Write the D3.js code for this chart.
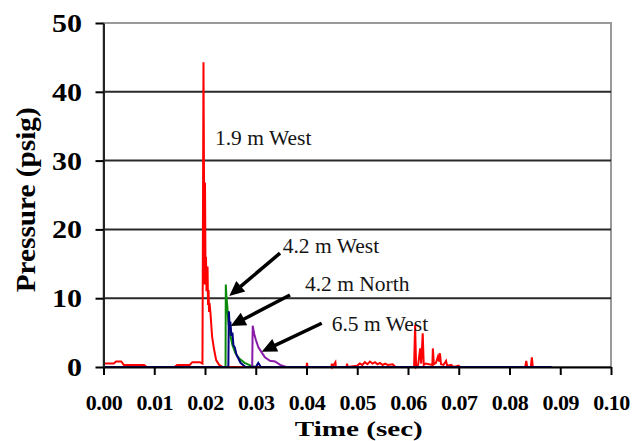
<!DOCTYPE html>
<html>
<head>
<meta charset="utf-8">
<script src="https://cdn.jsdelivr.net/npm/d3@7"></script>
<style>
  body { margin: 0; background: #fff; }
  svg { display: block; }
  .tickLabel { font-family: 'Liberation Serif', 'Times New Roman', serif; font-weight: bold; fill: #000; }
  .note { font-family: 'Liberation Serif', 'Times New Roman', serif; font-size: 21.5px; fill: #151515; }
</style>
</head>
<body>
<div id="chart"></div>
<script>
// Pressure traces, [time (sec), pressure (psig)].
const west19 = [
  [0.0000, 0.5], [0.0020, 0.5], [0.0025, 0.8], [0.0035, 0.8], [0.0040, 0.3],
  [0.0080, 0.3], [0.0085, 0], [0.0140, 0], [0.0145, 0.3], [0.0170, 0.3],
  [0.0175, 0.7], [0.0190, 0.7], [0.0195, 0.5], [0.0197, 44.3], [0.0199, 12],
  [0.0200, 26.8], [0.0201, 14], [0.0202, 16], [0.0203, 11], [0.0205, 14.6],
  [0.0206, 9], [0.0207, 11.2], [0.0208, 8], [0.0209, 9.3], [0.0211, 7.6],
  [0.0214, 4.4], [0.0218, 2.5], [0.0222, 1.0], [0.0228, 0.3], [0.0235, 0],
  [0.0400, 0], [0.0401, 0.6], [0.0402, 0], [0.0449, 0], [0.0450, 0.5],
  [0.0451, 0], [0.0457, 0.7], [0.0458, 0], [0.0479, 0], [0.0480, 0.5],
  [0.0481, 0], [0.0500, 0.2], [0.0505, 0.5], [0.0510, 0.3], [0.0515, 0.7],
  [0.0520, 0.4], [0.0525, 0.8], [0.0530, 0.5], [0.0535, 0.7], [0.0540, 0.4],
  [0.0545, 0.6], [0.0550, 0.3], [0.0555, 0.5], [0.0560, 0.3], [0.0570, 0.4],
  [0.0575, 0], [0.0612, 0], [0.0614, 6.1], [0.0616, 0], [0.0620, 0.3],
  [0.0624, 2.7], [0.0626, 0.5], [0.0629, 4.9], [0.0631, 0.3], [0.0635, 0.5],
  [0.0648, 0.3], [0.0649, 2.7], [0.0651, 0.4], [0.0655, 0.6], [0.0659, 1.5],
  [0.0661, 0.8], [0.0663, 2.0], [0.0665, 0.4], [0.0670, 0.3], [0.0675, 0.9],
  [0.0677, 0.2], [0.0685, 0.3], [0.0690, 0], [0.0700, 0.2], [0.0702, 0],
  [0.0831, 0], [0.0833, 0.9], [0.0835, 0], [0.0842, 0], [0.0844, 1.4],
  [0.0846, 0], [0.0850, 0],
];
const west42 = [
  [0.0000, 0], [0.02405, 0], [0.0241, 12.0], [0.0242, 10.5], [0.0244, 8.8],
  [0.0246, 6.5], [0.0250, 4.6], [0.0254, 3.2], [0.0260, 2.0], [0.0268, 1.2],
  [0.0278, 0.6], [0.0290, 0.2], [0.0300, 0],
];
const west65 = [
  [0.0293, 0], [0.0294, 6.0], [0.0297, 4.8], [0.0300, 4.0], [0.0305, 2.9],
  [0.0311, 2.2], [0.0318, 1.4], [0.0328, 0.9], [0.0338, 0.8], [0.0348, 0.3],
  [0.0360, 0],
];
const north42 = [
  [0.0000, 0], [0.0246, 0], [0.0247, 8.1], [0.0249, 5.5], [0.0250, 6.6],
  [0.0252, 4.5], [0.0254, 5.0], [0.0256, 3.2], [0.0259, 2.8], [0.0262, 1.8],
  [0.0266, 1.2], [0.0270, 0.6], [0.0275, 0.3], [0.0280, 0], [0.0300, 0],
  [0.0305, 0.6], [0.0310, 0], [0.0883, 0],
];

const xTicks = d3.range(0, 11).map((d) => d / 100);
const yTicks = [0, 10, 20, 30, 40, 50];

// Callouts: label start [time, pressure] and arrow tail / tip.
const callouts = [
  { text: '1.9 m West', at: [0.02197, 32.3] },
  { text: '4.2 m West', at: [0.03531, 16.54], from: [0.03478, 16.54], to: [0.02479, 10.33] },
  { text: '4.2 m North', at: [0.0397, 11.06], from: [0.03675, 10.47], to: [0.02506, 5.96] },
  { text: '6.5 m West', at: [0.04497, 5.24], from: [0.0430, 6.36], to: [0.03117, 2.23] },
];

/**
 * Draws a filled arrow from tail to tip (pixel coordinates).
 */
function drawArrow(g, x1, y1, x2, y2) {
  const len = Math.hypot(x2 - x1, y2 - y1);
  const ux = (x2 - x1) / len;
  const uy = (y2 - y1) / len;
  const headLen = 15;
  const headHalf = 7;
  const bx = x2 - ux * headLen;
  const by = y2 - uy * headLen;
  g.append('line')
    .attr('x1', x1).attr('y1', y1)
    .attr('x2', bx + ux * 2).attr('y2', by + uy * 2)
    .attr('stroke', '#000')
    .attr('stroke-width', 3.5);
  g.append('polygon')
    .attr('points', [
      [x2, y2],
      [bx - uy * headHalf, by + ux * headHalf],
      [bx + uy * headHalf, by - ux * headHalf],
    ].map((p) => p.join(',')).join(' '))
    .attr('fill', '#000');
}

function buildChart(targetNode) {
  const imageWidth = 632;
  const imageHeight = 441;
  const margin = {
    top: 23, right: 21, bottom: 74, left: 103.5,
  };
  const width = imageWidth - margin.left - margin.right;
  const height = imageHeight - margin.top - margin.bottom;

  const x = d3.scaleLinear().domain([0, 0.1]).range([0, width]);
  const y = d3.scaleLinear().domain([0, 50]).range([height, 0]);

  const root = d3.select(targetNode).append('svg')
    .attr('width', imageWidth)
    .attr('height', imageHeight);
  const svg = root.append('g')
    .attr('transform', `translate(${margin.left},${margin.top})`);

  // Plot border (top and right are grey).
  svg.append('rect')
    .attr('x', 0).attr('y', 0)
    .attr('width', width).attr('height', height)
    .attr('fill', 'none')
    .attr('stroke', '#9a9a9a')
    .attr('stroke-width', 2);

  // Gridlines.
  svg.selectAll('.grid')
    .data(yTicks.filter((d) => d > 0 && d < 50))
    .join('line')
    .attr('class', 'grid')
    .attr('x1', 0).attr('x2', width)
    .attr('y1', (d) => y(d)).attr('y2', (d) => y(d))
    .attr('stroke', '#2a2a2a')
    .attr('stroke-width', 2);

  // Traces.
  const line = d3.line().x((d) => x(d[0])).y((d) => y(d[1]));
  const series = [
    { data: west19, color: '#ff0000' },
    { data: west42, color: '#0a8a0a' },
    { data: west65, color: '#8a1aa8' },
    { data: north42, color: '#000080' },
  ];
  series.forEach((s) => {
    svg.append('path')
      .attr('d', line(s.data))
      .attr('fill', 'none')
      .attr('stroke', s.color)
      .attr('stroke-width', 2)
      .attr('stroke-linejoin', 'miter');
  });

  // X axis.
  const xAxis = d3.axisBottom(x).tickValues(xTicks).tickSize(8).tickSizeOuter(0)
    .tickFormat(d3.format('.2f'));
  const gx = svg.append('g')
    .attr('transform', `translate(0,${height})`)
    .call(xAxis);
  gx.select('.domain').attr('stroke', '#000').attr('stroke-width', 2);
  gx.selectAll('.tick line').attr('stroke', '#000').attr('stroke-width', 2);
  gx.selectAll('.tick text')
    .attr('class', 'tickLabel')
    .attr('y', 27)
    .attr('dy', '0.71em')
    .style('font-size', '22px')
    .style('letter-spacing', '-0.5px');

  // Y axis.
  const yAxis = d3.axisLeft(y).tickValues(yTicks).tickSize(8).tickSizeOuter(0)
    .tickFormat(d3.format('d'));
  const gy = svg.append('g').call(yAxis);
  gy.select('.domain').attr('stroke', '#222').attr('stroke-width', 2);
  gy.selectAll('.tick line').attr('stroke', '#000').attr('stroke-width', 2);
  gy.selectAll('.tick text')
    .attr('class', 'tickLabel')
    .attr('x', -21.5 / 1.2)
    .attr('dy', '0.34em')
    .attr('transform', 'scale(1.2,1)')
    .style('font-size', '25px');

  // Axis titles.
  svg.append('text')
    .attr('class', 'tickLabel')
    .attr('x', x(0.0503) - 64)
    .attr('y', height + 69)
    .attr('textLength', 128)
    .attr('lengthAdjust', 'spacingAndGlyphs')
    .style('font-size', '22px')
    .text('Time (sec)');
  svg.append('text')
    .attr('class', 'tickLabel')
    .attr('transform', `translate(${35 - margin.left},${y(24.3)}) rotate(-90)`)
    .attr('text-anchor', 'middle')
    .attr('textLength', 185)
    .attr('lengthAdjust', 'spacingAndGlyphs')
    .style('font-size', '27px')
    .text('Pressure (psig)');

  // Callouts.
  const notes = svg.append('g');
  callouts.forEach((c) => {
    notes.append('text')
      .attr('class', 'note')
      .attr('x', x(c.at[0]))
      .attr('y', y(c.at[1]))
      .text(c.text);
    if (c.from) {
      drawArrow(notes, x(c.from[0]), y(c.from[1]), x(c.to[0]), y(c.to[1]));
    }
  });
}

buildChart(document.getElementById('chart'));
</script>
</body>
</html>
